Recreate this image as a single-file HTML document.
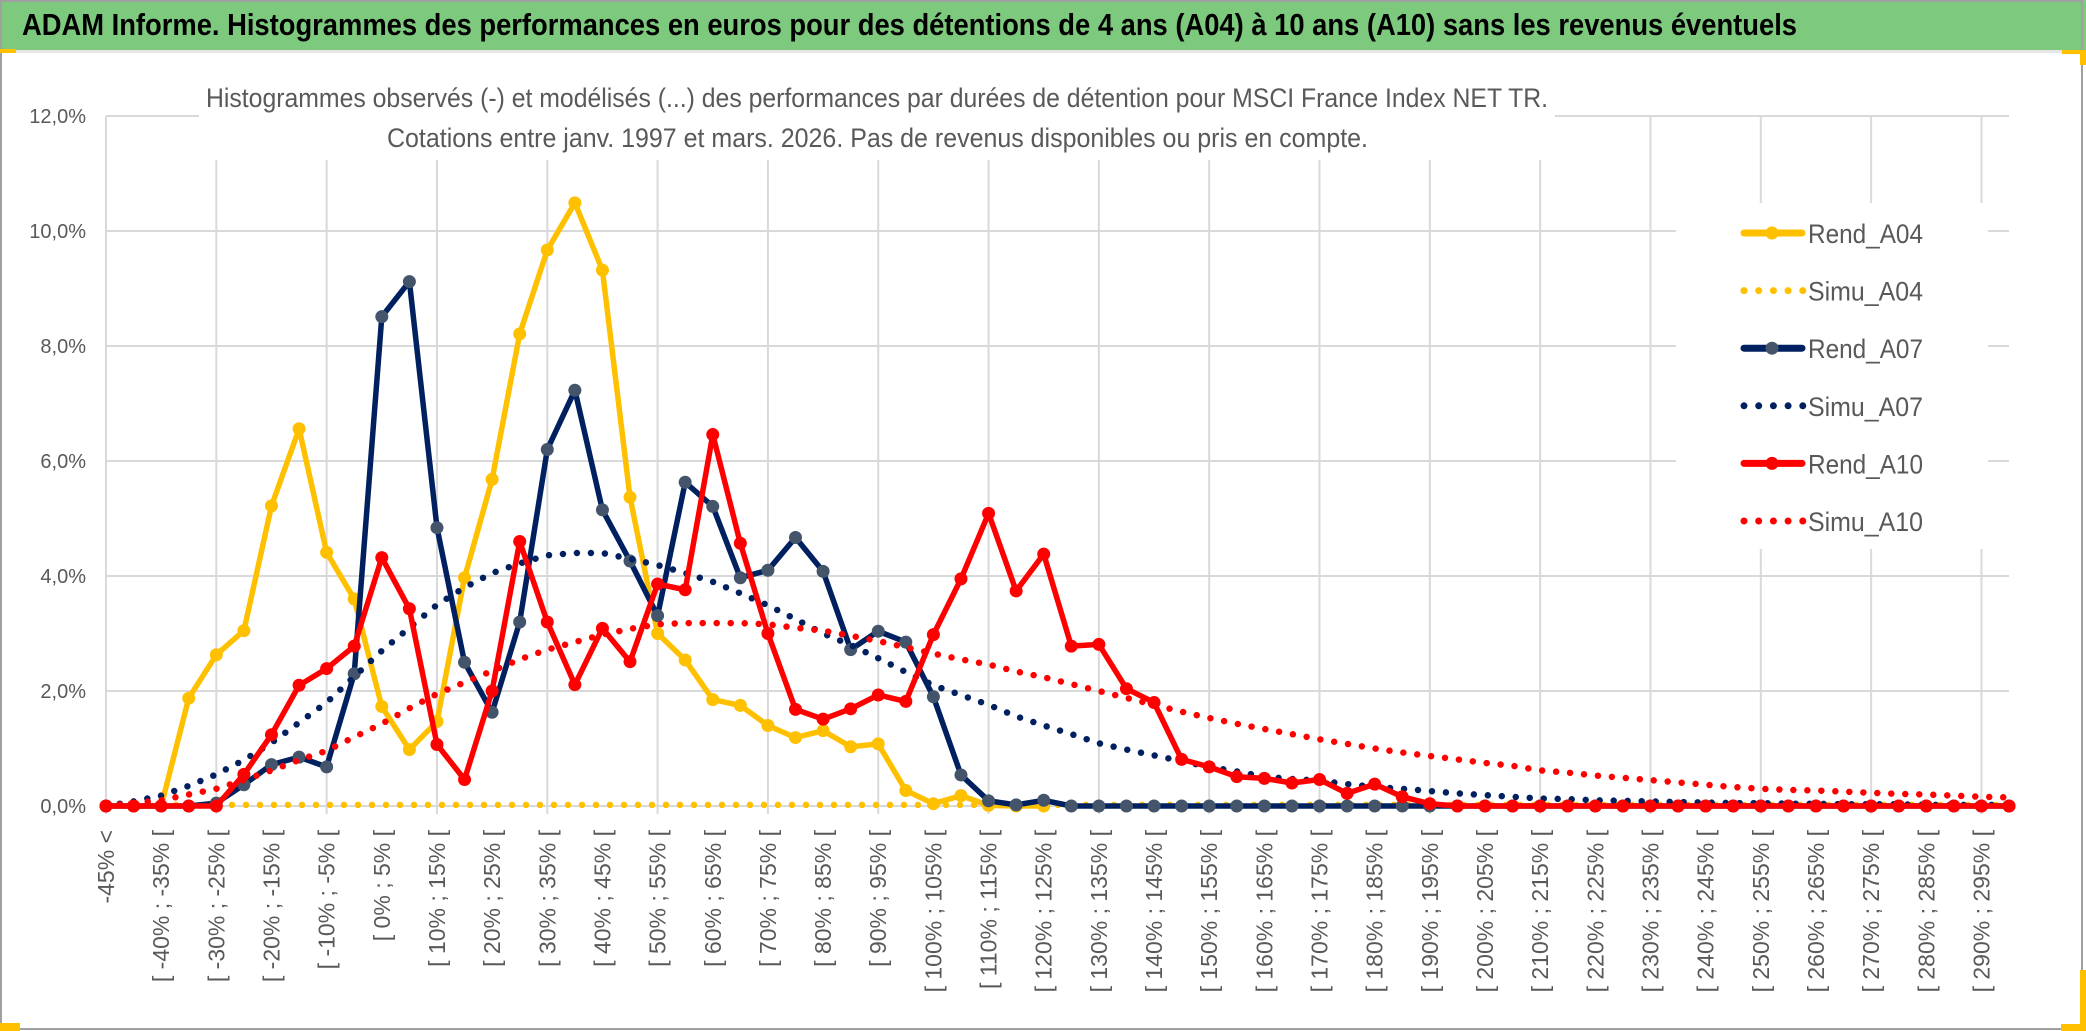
<!DOCTYPE html>
<html><head><meta charset="utf-8"><style>
html,body{margin:0;padding:0;background:#fff;}
svg{display:block;font-family:"Liberation Sans",sans-serif;}
</style></head><body>
<svg id="chart" width="2086" height="1031" viewBox="0 0 2086 1031" xmlns="http://www.w3.org/2000/svg">
<rect x="0" y="0" width="2086" height="1031" fill="#ffffff"/>
<rect x="0" y="0" width="2086" height="50" fill="#7DC97D"/>
<rect x="0" y="50" width="2086" height="3" fill="#e6e6e6"/>
<text x="22" y="35" font-size="31" font-weight="bold" fill="#000" textLength="1775" lengthAdjust="spacingAndGlyphs">ADAM Informe. Histogrammes des performances en euros pour des détentions de 4 ans (A04) à 10 ans (A10) sans les revenus éventuels</text>
<g id="grid"></g>
<rect x="199" y="60" width="1356" height="100" fill="#ffffff"/>
<text x="206" y="107" font-size="27" fill="#595959" textLength="1342" lengthAdjust="spacingAndGlyphs">Histogrammes observés (-) et modélisés (...) des performances par durées de détention pour MSCI France Index NET TR.</text>
<text x="387" y="147" font-size="27" fill="#595959" textLength="981" lengthAdjust="spacingAndGlyphs">Cotations entre janv. 1997 et mars. 2026. Pas de revenus disponibles ou pris en compte.</text>
<g id="yaxis"></g>
<g id="xaxis"></g>
<g id="series"></g>
<rect x="1676" y="203" width="312" height="346" fill="#ffffff"/>
<g id="legend"></g>
<rect x="1" y="1" width="2081" height="1028" fill="none" stroke="#a0a0a0" stroke-width="2"/>
<rect x="0" y="49" width="16" height="4" fill="#FFC000"/>
<rect x="0" y="1023" width="20" height="8" fill="#FFC000"/>
<rect x="2061" y="1024" width="25" height="7" fill="#FFC000"/>
<rect x="2080" y="970" width="6" height="61" fill="#FFC000"/>
<rect x="2062" y="50" width="24" height="4" fill="#FFC000"/>
<rect x="2080" y="50" width="6" height="15" fill="#FFC000"/>
</svg>
<script>
const yTicks = [0, 2, 4, 6, 8, 10, 12];
const yTickLabels = ["0,0%", "2,0%", "4,0%", "6,0%", "8,0%", "10,0%", "12,0%"];
const binLowers = [];
for (let k = 0; k < 70; k++) binLowers.push(-50 + 5 * k);
const rendA04 = [0,0,0,1.875,2.63,3.05,5.22,6.56,4.41,3.6,1.73,0.98,1.47,3.97,5.68,8.21,9.67,10.49,9.32,5.37,3.0,2.54,1.85,1.75,1.4,1.19,1.31,1.03,1.08,0.27,0.04,0.18,0.01,0,0];
const simuA04 = [0.02,0.02,0.02,0.02,0.02,0.02,0.02,0.02,0.02,0.02,0.02,0.02,0.02,0.02,0.02,0.02,0.02,0.02,0.02,0.02,0.02,0.02,0.02,0.02,0.02,0.02,0.02,0.02,0.02,0.02,0.02,0.02,0.02,0.02,0.02,0.02,0.02,0.02,0.02,0.02,0.02,0.02,0.02,0.02,0.02,0.02,0.02,0.02,0.02,0.02,0.02,0.02,0.02,0.02,0.02,0.02,0.02,0.02,0.02,0.02,0.02,0.02,0.02,0.02,0.02,0.02,0.02,0.02,0.02,0.02];
const rendA07 = [0,0,0,0,0.05,0.37,0.72,0.85,0.68,2.3,8.51,9.12,4.84,2.5,1.63,3.2,6.2,7.23,5.15,4.26,3.31,5.63,5.21,3.97,4.1,4.67,4.08,2.72,3.04,2.85,1.9,0.54,0.09,0.02,0.1,0,0,0,0,0,0,0,0,0,0,0,0,0,0,0,0,0,0,0,0,0,0,0,0,0,0,0,0,0,0,0,0,0,0,0];
const simuA07 = [0,0.08,0.18,0.35,0.55,0.8,1.1,1.45,1.8,2.25,2.7,3.1,3.5,3.8,4.05,4.22,4.36,4.4,4.4,4.3,4.19,4.05,3.9,3.7,3.49,3.25,3.0,2.8,2.57,2.33,2.1,1.93,1.76,1.56,1.4,1.25,1.09,0.98,0.88,0.78,0.68,0.6,0.51,0.47,0.44,0.38,0.33,0.3,0.26,0.22,0.19,0.16,0.13,0.12,0.1,0.09,0.08,0.07,0.06,0.05,0.05,0.04,0.04,0.03,0.03,0.03,0.02,0.02,0.02,0.02];
const rendA10 = [0,0,0,0,0,0.55,1.24,2.1,2.39,2.78,4.32,3.43,1.07,0.46,2.0,4.6,3.2,2.11,3.09,2.51,3.86,3.76,6.46,4.57,3.0,1.68,1.51,1.69,1.93,1.82,2.98,3.95,5.09,3.74,4.38,2.78,2.81,2.04,1.8,0.81,0.68,0.51,0.48,0.4,0.46,0.22,0.38,0.16,0.04,0,0,0,0,0,0,0,0,0,0,0,0,0,0,0,0,0,0,0,0,0];
const simuA10 = [0,0.05,0.1,0.2,0.3,0.45,0.62,0.8,0.96,1.2,1.43,1.7,1.95,2.15,2.35,2.55,2.72,2.85,2.98,3.08,3.16,3.18,3.18,3.18,3.16,3.1,3.05,2.96,2.87,2.76,2.65,2.55,2.46,2.34,2.24,2.12,2.0,1.88,1.76,1.64,1.53,1.43,1.34,1.25,1.16,1.08,1.0,0.93,0.87,0.81,0.75,0.7,0.62,0.58,0.53,0.49,0.45,0.41,0.37,0.33,0.3,0.28,0.27,0.25,0.23,0.21,0.2,0.18,0.16,0.15];

const NS = "http://www.w3.org/2000/svg";
const X0 = 106, DX = 27.58, Y0 = 806, DY = 57.5;
function xPos(i) { return X0 + DX * i; }
function yPos(v) { return Y0 - DY * v; }
function mk(tag, attrs, parent) {
  const el = document.createElementNS(NS, tag);
  for (const k in attrs) el.setAttribute(k, attrs[k]);
  parent.appendChild(el);
  return el;
}
function binLabel(k) {
  if (k === 0) return "-45% <";
  const lo = binLowers[k];
  return "[ " + lo + "% ; " + (lo + 5) + "% [";
}
const grid = document.getElementById('grid');
const nCat = binLowers.length;
yTicks.forEach(function (t) {
  const ln = mk('line', {x1: X0, x2: xPos(nCat - 1), y1: yPos(t), y2: yPos(t), stroke: '#D9D9D9', 'stroke-width': 2}, grid);
  
  
});
for (let k = 0; k < nCat; k += 4) {
  const ln = mk('line', {x1: xPos(k), x2: xPos(k), y1: yPos(12), y2: Y0 + 8, stroke: '#D9D9D9', 'stroke-width': 2}, grid);
  
  
}
const yaxis = document.getElementById('yaxis');
yTicks.forEach(function (t, j) {
  const tx = mk('text', {x: 86, y: yPos(t) + 7, 'text-anchor': 'end', 'font-size': 20, fill: '#595959'}, yaxis);
  
  
  tx.textContent = yTickLabels[j];
});
const xaxis = document.getElementById('xaxis');
for (let k = 0; k < nCat; k += 2) {
  const x = xPos(k) + 8;
  const tx = mk('text', {x: 0, y: 0, 'text-anchor': 'end', 'font-size': 23, fill: '#595959', transform: 'translate(' + x + ',830) rotate(-90)'}, xaxis);
  
  
  tx.textContent = binLabel(k);
}
const seriesG = document.getElementById('series');
function drawSeries(vals, color, dotted, markerColor, name) {
  const pts = vals.map(function (v, i) { return xPos(i).toFixed(1) + ',' + yPos(v).toFixed(1); }).join(' ');
  const g = mk('g', {}, seriesG);
  
  
  if (dotted) {
    const pl = mk('polyline', {points: pts, fill: 'none', stroke: color, 'stroke-width': 6.5, 'stroke-linecap': 'round', 'stroke-dasharray': '0 14'}, g);
    
    
  } else {
    const pl = mk('polyline', {points: pts, fill: 'none', stroke: color, 'stroke-width': 5.5, 'stroke-linejoin': 'round'}, g);
    
    
    vals.forEach(function (v, i) {
      const c = mk('circle', {cx: xPos(i), cy: yPos(v), r: 6.5, fill: markerColor}, g);
      
      
    });
  }
}
drawSeries(rendA04, '#FFC000', false, '#FFC000', 'rend-a04');
drawSeries(simuA04, '#FFC000', true, null, 'simu-a04');
drawSeries(rendA07, '#002060', false, '#44546A', 'rend-a07');
drawSeries(simuA07, '#002060', true, null, 'simu-a07');
drawSeries(rendA10, '#FF0000', false, '#FF0000', 'rend-a10');
drawSeries(simuA10, '#FF0000', true, null, 'simu-a10');

const legendNames = ["Rend_A04", "Simu_A04", "Rend_A07", "Simu_A07", "Rend_A10", "Simu_A10"];
const legendColors = ['#FFC000', '#FFC000', '#002060', '#002060', '#FF0000', '#FF0000'];
const legendMarkers = ['#FFC000', null, '#44546A', null, '#FF0000', null];
const legend = document.getElementById('legend');
legendNames.forEach(function (nm, j) {
  const y = 233 + 57.6 * j;
  const g = mk('g', {}, legend);
  
  
  if (j % 2 === 0) {
    mk('line', {x1: 1744, x2: 1802, y1: y, y2: y, stroke: legendColors[j], 'stroke-width': 7, 'stroke-linecap': 'round'}, g);
    mk('circle', {cx: 1772, cy: y, r: 6.5, fill: legendMarkers[j]}, g);
  } else {
    mk('line', {x1: 1744, x2: 1806, y1: y, y2: y, stroke: legendColors[j], 'stroke-width': 7, 'stroke-linecap': 'round', 'stroke-dasharray': '0 14.7'}, g);
  }
  const tx = mk('text', {x: 1808, y: y + 10, 'font-size': 27, fill: '#595959', textLength: 115, lengthAdjust: 'spacingAndGlyphs'}, g);
  
  
  tx.textContent = nm;
});
</script>
</body></html>
